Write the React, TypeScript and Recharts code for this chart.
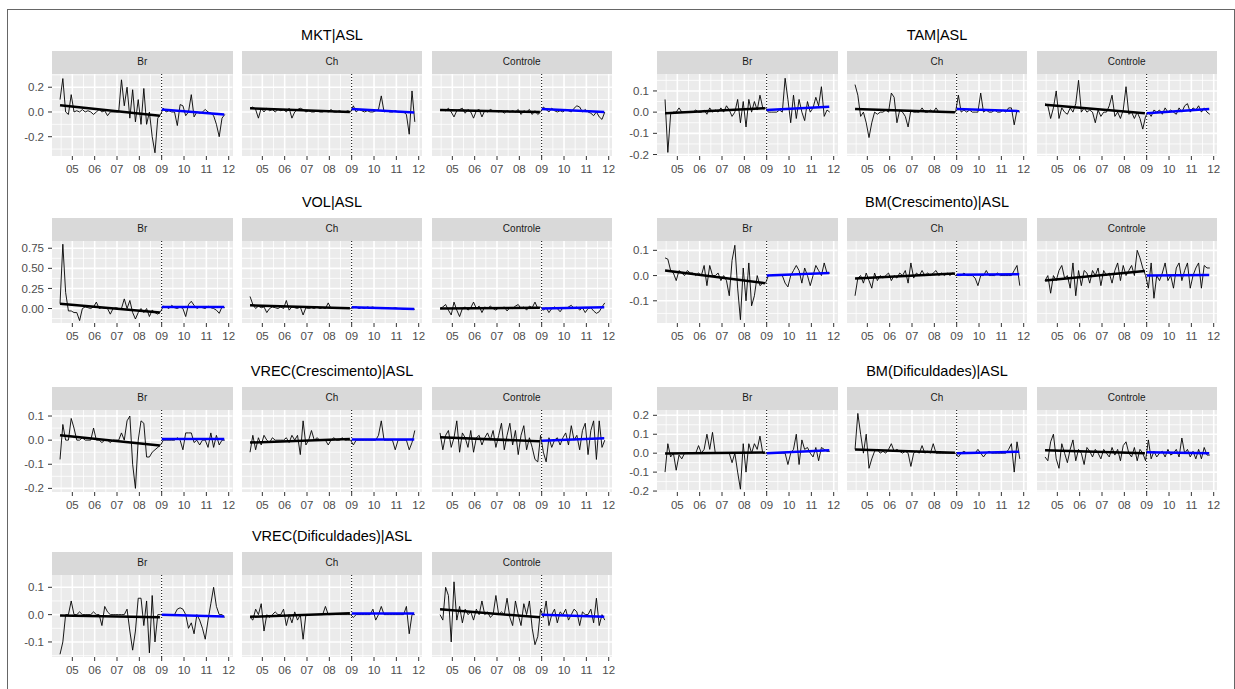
import { LineChart, Line, XAxis, YAxis, ReferenceLine } from 'recharts';

// time grid: one observation every 1.5 months, Jun 2004 .. Oct 2011
const START = 2004.45;
const STEP = 0.125;
const X_DOMAIN = [2004.09, 2012.17];
const X_TICKS = [2005, 2006, 2007, 2008, 2009, 2010, 2011, 2012];
const X_MINOR = [2004.5, 2005.5, 2006.5, 2007.5, 2008.5, 2009.5, 2010.5, 2011.5];
const BREAK_YEAR = 2009;
const PRE_X = [2004.45, 2008.92];
const POST_X = [2009.0, 2011.8];
const FACETS = ['Br', 'Ch', 'Controle'];

// MKT|ASL
const mktBr = [
  0.10, 0.27, 0.00, -0.02, 0.14, 0.00, 0.01, 0.00, 0.02, 0.00,
  0.01, 0.00, -0.02, 0.00, 0.02, 0.00, 0.01, -0.03, 0.00, 0.00,
  0.00, 0.00, 0.26, 0.05, 0.20, -0.05, 0.18, -0.08, 0.10, -0.10,
  0.19, -0.10, 0.00, -0.20, -0.33, -0.05, -0.02, 0.03, 0.00, 0.01,
  0.00, 0.00, -0.11, 0.06, 0.05, -0.03, 0.00, 0.14, -0.04, 0.00,
  -0.01, 0.00, 0.02, 0.00, -0.01, -0.03, -0.10, -0.20, -0.05, -0.02,
];
const mktCh = [
  0.03, 0.04, 0.02, -0.05, 0.03, 0.00, 0.03, 0.01, 0.02, 0.00,
  0.02, 0.01, 0.02, 0.00, 0.03, -0.05, 0.00, 0.02, 0.03, 0.02,
  0.00, 0.01, 0.00, 0.00, 0.01, 0.00, 0.00, 0.01, 0.00, 0.02,
  0.00, 0.00, 0.01, 0.00, 0.00, 0.01, 0.00, 0.05, 0.00, 0.02,
  0.01, 0.00, 0.01, 0.00, 0.00, 0.01, 0.02, 0.13, 0.00, 0.01,
  0.00, 0.00, 0.01, 0.00, 0.00, 0.00, -0.02, -0.18, 0.17, -0.08,
];
const mktCtrl = [
  0.01, 0.02, 0.01, 0.03, 0.00, -0.04, 0.01, 0.02, 0.03, -0.01,
  0.02, 0.00, -0.05, 0.01, 0.02, -0.04, 0.01, 0.00, 0.02, 0.01,
  0.01, 0.00, 0.01, -0.01, 0.01, 0.00, 0.01, 0.00, 0.02, -0.02,
  0.01, 0.00, 0.02, -0.02, 0.01, -0.02, 0.00, 0.04, 0.02, 0.00,
  0.03, 0.01, 0.00, 0.01, 0.00, 0.02, 0.01, 0.00, 0.03, 0.05,
  0.04, 0.00, 0.02, 0.00, -0.01, -0.03, 0.00, -0.04, -0.06, 0.00,
];

// TAM|ASL
const tamBr = [
  0.06, -0.19, -0.01, 0.00, 0.00, 0.02, 0.00, 0.00, 0.00, 0.00,
  0.00, 0.01, 0.00, 0.00, 0.01, -0.01, 0.02, 0.00, 0.01, 0.00,
  0.02, 0.00, 0.03, 0.01, -0.02, 0.00, 0.06, -0.05, 0.05, -0.07,
  0.06, 0.00, 0.05, 0.01, 0.08, 0.02, 0.02, 0.00, 0.00, 0.00,
  0.00, 0.01, 0.00, 0.16, 0.06, -0.05, 0.08, -0.03, 0.06, 0.00,
  -0.04, 0.05, 0.00, 0.02, 0.07, 0.03, 0.12, -0.02, 0.01, 0.00,
];
const tamCh = [
  0.13, 0.08, -0.02, 0.00, -0.05, -0.12, -0.05, 0.00, -0.01, 0.00,
  0.00, 0.01, 0.00, 0.09, 0.07, -0.05, 0.01, 0.00, -0.02, -0.07,
  0.01, 0.00, 0.00, 0.00, 0.02, 0.00, 0.00, 0.01, 0.00, 0.02,
  0.00, 0.00, 0.00, 0.00, 0.00, 0.00, 0.00, 0.08, 0.00, 0.01,
  0.00, 0.01, 0.00, 0.00, 0.00, 0.09, 0.00, 0.01, 0.00, 0.00,
  0.01, 0.00, 0.00, 0.01, 0.00, 0.02, 0.02, -0.06, 0.01, 0.00,
];
const tamCtrl = [
  0.04, 0.03, -0.03, 0.02, 0.10, -0.03, 0.02, 0.00, -0.01, 0.02,
  0.00, 0.04, 0.15, 0.00, 0.02, 0.00, 0.01, 0.00, -0.05, 0.01,
  -0.02, 0.00, 0.00, 0.03, 0.08, -0.02, 0.00, -0.03, 0.01, 0.12,
  -0.01, 0.00, -0.03, 0.00, -0.03, -0.08, -0.02, 0.00, -0.02, 0.01,
  0.00, 0.01, -0.01, 0.02, 0.00, 0.01, 0.00, -0.01, 0.02, 0.00,
  0.03, 0.04, 0.00, 0.02, 0.01, 0.03, 0.00, 0.02, 0.00, -0.01,
];

// VOL|ASL
const volBr = [
  0.06, 0.80, 0.20, -0.03, -0.03, -0.05, -0.05, -0.15, 0.00, 0.02,
  0.01, 0.00, 0.02, 0.08, 0.00, 0.01, 0.00, 0.00, -0.07, 0.00,
  0.01, 0.00, 0.00, 0.12, 0.00, 0.10, -0.05, -0.13, -0.05, 0.00,
  -0.05, 0.00, -0.10, -0.02, -0.05, -0.07, -0.04, 0.03, 0.02, 0.00,
  0.04, 0.01, 0.00, 0.02, 0.00, -0.10, 0.05, 0.09, 0.04, 0.00,
  0.02, 0.01, 0.00, 0.03, 0.01, 0.00, -0.02, -0.06, 0.02, 0.01,
];
const volCh = [
  0.15, 0.05, 0.00, 0.03, 0.01, 0.02, -0.05, 0.00, 0.02, 0.01,
  0.00, 0.02, 0.00, 0.10, -0.02, 0.02, 0.01, 0.00, 0.02, -0.08,
  0.01, 0.00, 0.01, 0.00, 0.02, 0.00, 0.01, 0.00, 0.07, 0.00,
  0.01, 0.00, 0.01, 0.00, 0.00, 0.01, 0.00, 0.01, 0.02, 0.00,
  0.01, 0.00, 0.02, 0.01, 0.02, 0.00, 0.01, 0.00, 0.00, 0.01,
  0.00, 0.00, 0.01, 0.00, 0.00, -0.01, 0.00, 0.00, 0.00, -0.01,
];
const volCtrl = [
  0.00, 0.02, 0.05, -0.02, -0.08, 0.08, -0.02, -0.10, 0.00, 0.02,
  -0.02, 0.01, 0.08, 0.00, 0.03, -0.05, 0.02, 0.00, 0.03, 0.00,
  -0.02, 0.01, 0.00, 0.02, -0.03, 0.01, 0.00, 0.03, 0.05, 0.00,
  0.02, -0.02, 0.03, 0.01, 0.08, 0.00, 0.02, -0.02, 0.01, -0.05,
  0.00, 0.02, 0.00, -0.04, 0.01, 0.00, 0.02, 0.04, 0.00, 0.02,
  -0.02, 0.01, -0.05, 0.00, 0.01, -0.03, -0.06, -0.04, 0.02, 0.07,
];

// BM(Crescimento)|ASL
const bmcBr = [
  0.07, 0.065, 0.02, 0.01, -0.02, 0.02, 0.01, 0.00, 0.02, 0.01,
  0.01, 0.00, 0.01, 0.00, 0.04, -0.04, 0.04, 0.00, 0.00, 0.01,
  -0.02, 0.00, -0.02, -0.08, 0.06, 0.12, -0.05, -0.175, 0.03, -0.10,
  0.05, -0.12, -0.08, 0.00, -0.04, -0.03, -0.03, 0.00, 0.00, 0.00,
  0.00, 0.00, 0.00, -0.03, -0.045, 0.00, 0.02, 0.04, 0.02, -0.03,
  0.03, 0.00, -0.04, 0.00, 0.04, 0.02, 0.00, 0.05, 0.01, 0.01,
];
const bmcCh = [
  -0.08, -0.01, 0.00, -0.03, 0.01, -0.02, -0.05, 0.01, -0.02, 0.00,
  -0.01, 0.00, 0.01, -0.02, 0.00, -0.01, 0.01, 0.00, 0.02, -0.03,
  0.05, -0.01, 0.01, 0.00, 0.02, 0.00, 0.01, 0.00, 0.01, 0.02,
  0.00, 0.01, 0.00, 0.01, 0.00, 0.01, 0.00, 0.00, 0.00, 0.01,
  0.00, 0.00, 0.00, -0.01, -0.04, 0.00, 0.00, 0.02, 0.00, 0.00,
  0.00, 0.01, 0.00, 0.00, 0.00, 0.00, 0.00, 0.02, 0.04, -0.04,
];
const bmcCtrl = [
  -0.02, 0.00, -0.07, 0.00, -0.02, 0.02, 0.04, -0.01, 0.00, -0.05,
  0.05, -0.08, 0.02, -0.04, 0.02, 0.01, -0.03, 0.02, 0.00, 0.03,
  -0.04, 0.02, 0.00, 0.01, -0.03, 0.02, 0.05, -0.02, 0.04, 0.00,
  0.02, 0.04, 0.00, 0.10, 0.07, 0.03, 0.00, -0.05, 0.05, -0.09,
  0.00, -0.02, 0.01, 0.05, -0.02, 0.00, -0.05, 0.03, 0.05, -0.02,
  0.02, 0.05, -0.05, 0.00, 0.03, 0.05, -0.05, 0.04, 0.03, 0.03,
];

// VREC(Crescimento)|ASL
const vrcBr = [
  -0.08, 0.065, 0.00, 0.00, 0.09, 0.05, 0.00, 0.00, 0.01, 0.00,
  0.00, 0.00, 0.05, 0.00, 0.00, -0.01, 0.00, 0.00, -0.01, 0.00,
  0.00, 0.00, 0.03, 0.00, 0.08, 0.10, -0.10, -0.20, 0.00, 0.08,
  0.07, -0.07, -0.07, -0.05, -0.04, -0.03, -0.02, 0.00, 0.00, 0.00,
  0.00, 0.00, 0.01, 0.00, -0.04, 0.03, 0.03, 0.03, -0.01, 0.00,
  -0.02, 0.00, 0.00, -0.03, 0.03, -0.03, 0.02, -0.02, 0.00, 0.00,
];
const vrcCh = [
  -0.05, 0.02, -0.04, 0.01, -0.02, 0.02, 0.00, -0.01, 0.01, 0.00,
  0.00, 0.00, 0.00, 0.01, -0.01, 0.02, 0.00, 0.02, -0.06, 0.08,
  -0.02, 0.00, 0.04, 0.00, 0.01, 0.00, 0.00, 0.00, -0.02, 0.00,
  0.01, 0.00, 0.00, 0.01, 0.00, 0.00, 0.00, -0.02, 0.00, 0.00,
  0.00, 0.00, 0.00, 0.00, 0.00, 0.00, 0.02, 0.08, 0.00, 0.00,
  0.00, 0.00, -0.04, 0.00, 0.00, 0.00, 0.00, -0.04, -0.01, 0.04,
];
const vrcCtrl = [
  0.03, -0.04, 0.02, 0.04, -0.03, 0.01, 0.08, -0.05, 0.03, 0.01,
  -0.03, 0.04, -0.05, 0.01, 0.02, -0.02, 0.01, 0.03, 0.00, 0.04,
  -0.03, 0.02, 0.07, -0.04, 0.02, 0.07, -0.02, 0.04, -0.06, 0.02,
  0.06, -0.04, 0.01, -0.03, -0.08, -0.09, 0.02, -0.05, -0.09, 0.01,
  -0.03, 0.00, 0.01, -0.02, 0.01, 0.03, -0.02, 0.06, 0.00, 0.02,
  -0.04, 0.04, 0.07, -0.06, 0.04, 0.08, -0.08, 0.08, -0.03, 0.00,
];

// BM(Dificuldades)|ASL
const bmdBr = [
  -0.10, 0.05, -0.02, 0.00, -0.09, -0.01, -0.03, 0.00, 0.00, 0.00,
  0.00, 0.00, 0.04, 0.00, 0.02, 0.10, 0.02, 0.11, 0.00, 0.00,
  0.00, 0.00, 0.00, 0.00, -0.05, 0.00, -0.10, -0.19, 0.05, -0.10,
  0.05, 0.00, 0.05, 0.02, 0.09, 0.00, 0.00, 0.00, 0.00, 0.00,
  0.00, 0.00, 0.00, 0.00, -0.06, 0.00, 0.02, 0.10, -0.06, 0.07,
  0.02, 0.03, 0.00, -0.02, 0.03, -0.04, 0.03, 0.02, 0.01, 0.01,
];
const bmdCh = [
  0.02, 0.21, 0.10, 0.00, 0.10, -0.08, -0.03, 0.01, 0.02, 0.00,
  0.01, 0.00, 0.02, 0.05, 0.01, 0.02, 0.01, 0.00, 0.01, 0.00,
  -0.07, 0.00, 0.01, 0.00, 0.04, 0.00, 0.01, 0.00, 0.05, 0.00,
  0.00, 0.00, 0.00, 0.00, 0.00, 0.00, 0.00, -0.02, 0.00, 0.01,
  0.00, 0.00, 0.00, 0.00, 0.02, 0.00, -0.02, 0.00, 0.01, 0.00,
  0.00, 0.00, 0.00, 0.00, 0.00, 0.02, 0.05, -0.10, 0.06, -0.03,
];
const bmdCtrl = [
  -0.02, -0.04, 0.06, 0.10, -0.03, -0.08, 0.05, 0.00, -0.05, 0.02,
  0.07, -0.04, 0.02, 0.00, -0.06, 0.03, 0.01, -0.02, 0.02, 0.00,
  -0.03, 0.02, 0.00, -0.02, 0.03, -0.01, 0.02, -0.04, 0.04, 0.06,
  0.00, -0.02, 0.03, -0.04, 0.02, 0.00, -0.04, 0.07, -0.03, 0.01,
  -0.02, 0.00, 0.01, -0.02, 0.02, -0.01, 0.00, 0.02, -0.02, 0.08,
  0.00, 0.02, -0.02, 0.01, -0.03, 0.02, -0.03, 0.03, -0.01, -0.01,
];

// VREC(Dificuldades)|ASL
const vrdBr = [
  -0.145, -0.10, 0.00, 0.00, 0.05, 0.00, 0.00, 0.01, 0.00, 0.00,
  0.00, 0.00, 0.01, 0.00, 0.00, -0.04, 0.03, 0.01, 0.00, 0.00,
  0.00, 0.00, 0.00, 0.00, 0.02, -0.06, -0.13, -0.06, 0.06, 0.06,
  -0.04, 0.05, -0.14, 0.07, -0.10, 0.00, 0.00, 0.00, 0.00, 0.00,
  0.00, 0.00, 0.02, 0.025, 0.02, 0.00, -0.05, -0.03, -0.07, 0.00,
  -0.02, -0.05, -0.09, -0.02, 0.04, 0.10, 0.03, 0.00, 0.00, -0.01,
];
const vrdCh = [
  -0.01, -0.02, 0.02, 0.00, 0.04, -0.06, 0.00, -0.01, 0.00, 0.01,
  0.00, 0.00, 0.02, -0.04, 0.00, -0.03, 0.01, -0.02, 0.00, -0.09,
  0.00, 0.00, 0.00, 0.00, 0.00, 0.00, 0.00, 0.03, 0.00, 0.00,
  0.00, 0.00, 0.00, 0.00, 0.00, 0.00, 0.00, -0.01, 0.00, 0.00,
  0.00, 0.00, 0.00, 0.00, 0.02, -0.02, 0.00, 0.03, 0.00, 0.00,
  0.00, 0.00, 0.00, 0.00, 0.00, 0.00, 0.03, -0.07, 0.00, 0.00,
];
const vrdCtrl = [
  0.00, -0.02, 0.10, 0.07, -0.10, 0.12, -0.02, 0.03, -0.03, 0.02,
  0.00, 0.01, -0.02, 0.02, 0.00, 0.05, 0.00, 0.01, -0.01, 0.00,
  0.07, 0.00, 0.01, 0.00, 0.06, -0.01, -0.04, 0.05, 0.00, -0.04,
  0.04, 0.00, 0.05, -0.05, -0.11, -0.08, 0.02, -0.01, 0.05, -0.04,
  0.00, 0.02, -0.03, 0.01, 0.00, 0.02, -0.02, 0.00, 0.02, 0.01,
  -0.04, 0.01, 0.00, 0.00, 0.02, -0.03, 0.06, -0.04, 0.00, -0.02,
];

// fitted trend before / after the break, [start, end] per facet (Br, Ch, Controle)
const mktPre = [[0.055, -0.03], [0.03, 0.0], [0.015, 0.0]];
const mktPost = [[0.02, -0.02], [0.025, -0.005], [0.025, 0.0]];
const tamPre = [[-0.005, 0.018], [0.015, 0.0], [0.035, -0.005]];
const tamPost = [[0.01, 0.025], [0.015, 0.005], [-0.005, 0.015]];
const volPre = [[0.06, -0.05], [0.04, 0.005], [0.0, 0.01]];
const volPost = [[0.02, 0.02], [0.015, -0.005], [0.0, 0.015]];
const bmcPre = [[0.02, -0.03], [-0.012, 0.008], [-0.02, 0.018]];
const bmcPost = [[0.0, 0.01], [0.003, 0.005], [0.0, 0.002]];
const vrcPre = [[0.02, -0.022], [-0.01, 0.005], [0.012, -0.005]];
const vrcPost = [[0.005, 0.005], [0.003, 0.003], [-0.002, 0.008]];
const bmdPre = [[-0.002, 0.003], [0.02, 0.002], [0.015, 0.0]];
const bmdPost = [[0.0, 0.015], [0.0, 0.008], [0.005, 0.0]];
const vrdPre = [[-0.003, -0.01], [-0.008, 0.005], [0.02, -0.01]];
const vrdPost = [[0.0, -0.007], [0.004, 0.004], [0.0, -0.008]];

const GROUPS = [
  { title: 'MKT|ASL', col: 0, row: 0, series: [mktBr, mktCh, mktCtrl], pre: mktPre, post: mktPost,
    domain: [-0.356, 0.307], ticks: [-0.2, 0, 0.2], minor: [-0.3, -0.1, 0.1, 0.3], digits: 1 },
  { title: 'TAM|ASL', col: 1, row: 0, series: [tamBr, tamCh, tamCtrl], pre: tamPre, post: tamPost,
    domain: [-0.207, 0.18], ticks: [-0.2, -0.1, 0, 0.1], minor: [-0.15, -0.05, 0.05, 0.15], digits: 1 },
  { title: 'VOL|ASL', col: 0, row: 1, series: [volBr, volCh, volCtrl], pre: volPre, post: volPost,
    domain: [-0.18, 0.84], ticks: [0, 0.25, 0.5, 0.75], minor: [-0.125, 0.125, 0.375, 0.625], digits: 2 },
  { title: 'BM(Crescimento)|ASL', col: 1, row: 1, series: [bmcBr, bmcCh, bmcCtrl], pre: bmcPre, post: bmcPost,
    domain: [-0.188, 0.137], ticks: [-0.1, 0, 0.1], minor: [-0.15, -0.05, 0.05], digits: 1 },
  { title: 'VREC(Crescimento)|ASL', col: 0, row: 2, series: [vrcBr, vrcCh, vrcCtrl], pre: vrcPre, post: vrcPost,
    domain: [-0.215, 0.125], ticks: [-0.2, -0.1, 0, 0.1], minor: [-0.15, -0.05, 0.05], digits: 1 },
  { title: 'BM(Dificuldades)|ASL', col: 1, row: 2, series: [bmdBr, bmdCh, bmdCtrl], pre: bmdPre, post: bmdPost,
    domain: [-0.205, 0.228], ticks: [-0.2, -0.1, 0, 0.1, 0.2], minor: [-0.15, -0.05, 0.05, 0.15], digits: 1 },
  { title: 'VREC(Dificuldades)|ASL', col: 0, row: 3, series: [vrdBr, vrdCh, vrdCtrl], pre: vrdPre, post: vrdPost,
    domain: [-0.155, 0.145], ticks: [-0.1, 0, 0.1], minor: [-0.15, -0.05, 0.05], digits: 1 },
];

const FONT = '"Liberation Sans", Arial, sans-serif';
const COL_LEFT = [52, 657];
const ROW_TOP = [51, 218, 387, 552];
const PW = 180.5;
const PITCH = 189.75;
const SH = 22.5;
const PH = 82;
const YW = 40;
const XH = 26;
const PAD_R = 10;

type Group = (typeof GROUPS)[number];

function Panel({ g, k, left, top }: { g: Group; k: number; left: number; top: number }) {
  const showY = k === 0;
  const offX = showY ? YW : 0;
  const pts = g.series[k].map((y, i) => ({ x: START + i * STEP, y }));
  const pre = PRE_X.map((x, i) => ({ x, y: g.pre[k][i] }));
  const post = POST_X.map((x, i) => ({ x, y: g.post[k][i] }));
  const tickStyle = { fill: '#4D4D4D', fontSize: 11.5, fontFamily: FONT };
  return (
    <>
      <div
        style={{
          position: 'absolute', left, top, width: PW, height: SH, background: '#D9D9D9',
          color: '#1A1A1A', fontFamily: FONT, fontSize: 10, lineHeight: `${SH}px`, textAlign: 'center',
        }}
      >
        {FACETS[k]}
      </div>
      <div style={{ position: 'absolute', left, top: top + SH, width: PW, height: PH, background: '#EBEBEB' }} />
      <div style={{ position: 'absolute', left: left - offX, top: top + SH }}>
        <LineChart width={PW + offX + PAD_R} height={PH + XH} margin={{ top: 0, right: PAD_R, bottom: 0, left: 0 }}>
          <XAxis
            type="number"
            dataKey="x"
            domain={X_DOMAIN}
            ticks={X_TICKS}
            interval={0}
            allowDataOverflow
            axisLine={false}
            tickLine={{ stroke: '#333333' }}
            tickSize={4}
            tickMargin={5}
            height={XH}
            tick={tickStyle}
            tickFormatter={(v) => String(v).slice(2)}
          />
          <YAxis
            type="number"
            dataKey="y"
            domain={g.domain}
            ticks={g.ticks}
            interval={0}
            allowDataOverflow
            hide={!showY}
            width={YW}
            axisLine={false}
            tickLine={{ stroke: '#333333' }}
            tickSize={4}
            tickMargin={4}
            tick={tickStyle}
            tickFormatter={(v) => Number(v).toFixed(g.digits)}
          />
          {X_MINOR.map((v) => (
            <ReferenceLine key={'xm' + v} x={v} stroke="#FFFFFF" strokeWidth={0.8} zIndex={-50} />
          ))}
          {g.minor.map((v) => (
            <ReferenceLine key={'ym' + v} y={v} stroke="#FFFFFF" strokeWidth={0.8} zIndex={-50} />
          ))}
          {X_TICKS.map((v) => (
            <ReferenceLine key={'xM' + v} x={v} stroke="#FFFFFF" strokeWidth={1.6} zIndex={-40} />
          ))}
          {g.ticks.map((v) => (
            <ReferenceLine key={'yM' + v} y={v} stroke="#FFFFFF" strokeWidth={1.6} zIndex={-40} />
          ))}
          <ReferenceLine x={BREAK_YEAR} stroke="#000000" strokeWidth={1} strokeDasharray="1 2" zIndex={-30} />
          <Line data={pts} dataKey="y" type="linear" stroke="#000000" strokeWidth={0.9} dot={false} isAnimationActive={false} />
          <Line data={pre} dataKey="y" type="linear" stroke="#000000" strokeWidth={2.5} dot={false} isAnimationActive={false} />
          <Line data={post} dataKey="y" type="linear" stroke="#0000FF" strokeWidth={2.5} dot={false} isAnimationActive={false} />
        </LineChart>
      </div>
    </>
  );
}

function FacetGroup({ g }: { g: Group }) {
  const left0 = COL_LEFT[g.col];
  const top = ROW_TOP[g.row];
  const span = PITCH * 2 + PW;
  return (
    <>
      <div
        style={{
          position: 'absolute', left: left0, top: top - 26, width: span, height: 20,
          textAlign: 'center', fontFamily: FONT, fontSize: 14.5, lineHeight: '20px', color: '#000',
        }}
      >
        {g.title}
      </div>
      {FACETS.map((_, k) => (
        <Panel key={k} g={g} k={k} left={left0 + k * PITCH} top={top} />
      ))}
    </>
  );
}

export default function App() {
  return (
    <div
      style={{
        position: 'fixed', left: 0, top: 0, width: 1235, height: 689, background: '#FFFFFF', overflow: 'hidden',
      }}
    >
      <div
        style={{
          position: 'absolute', left: 7, top: 9, width: 1226, height: 700, border: '1px solid #666666',
        }}
      />
      {GROUPS.map((g) => (
        <FacetGroup key={g.title} g={g} />
      ))}
    </div>
  );
}
